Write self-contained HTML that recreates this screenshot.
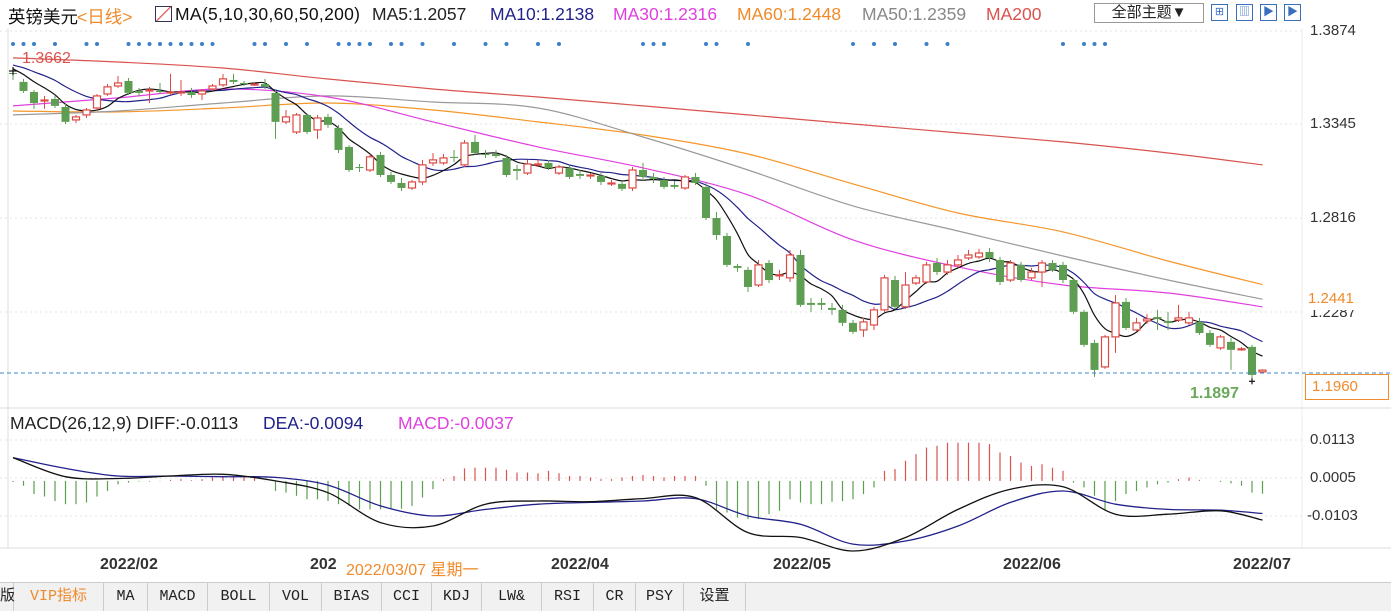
<!DOCTYPE html>
<html><head><meta charset="utf-8">
<style>
*{margin:0;padding:0;box-sizing:border-box}
body{width:1391px;height:611px;overflow:hidden;background:#fff;font-family:"Liberation Sans","Noto Sans CJK SC",sans-serif;position:relative}
.t{position:absolute;white-space:nowrap}
.h{position:absolute;top:4px;font-size:17.5px;white-space:nowrap}
.ax{position:absolute;left:1310px;font-size:15px;color:#333}
.xl{position:absolute;top:556px;font-size:16px;font-weight:bold;color:#333}
#tabs{position:absolute;left:0;top:582px;width:1391px;height:29px;background:#f1f1f1;border-top:1px solid #ccc;font-family:"Liberation Mono","Noto Sans CJK SC",monospace;font-size:15px}
#tabs div{position:absolute;top:0;height:28px;line-height:27px;border-right:1px solid #ccc;text-align:center;color:#222}
.ic{position:absolute;top:4px;width:17px;height:17px;border:1px solid #3a6fc0;color:#3a6fc0;font-size:11px;line-height:15px;text-align:center}
.m{position:absolute;top:413px;font-size:17.5px;white-space:nowrap}
</style></head><body>
<svg id="chart" width="1391" height="611" style="position:absolute;left:0;top:0">
  <g id="grid" stroke="#e3e3e3" stroke-dasharray="2,3">
    <line x1="0" x2="1302" y1="31" y2="31"/><line x1="0" x2="1302" y1="124" y2="124"/>
    <line x1="0" x2="1302" y1="218" y2="218"/><line x1="0" x2="1302" y1="312" y2="312"/>
    <line x1="0" x2="1302" y1="440" y2="440"/><line x1="0" x2="1302" y1="478" y2="478"/>
    <line x1="0" x2="1302" y1="516" y2="516"/>
  </g>
  <line x1="1302" x2="1302" y1="28" y2="548" stroke="#eee"/>
  <line x1="0" x2="1391" y1="408" y2="408" stroke="#ddd"/>
  <line x1="0" x2="1391" y1="548" y2="548" stroke="#ddd"/>
  <line x1="8" x2="8" y1="28" y2="548" stroke="#ddd"/>
  <g id="dots" fill="#3a7fc8"></g>
  <g id="mas"></g>
  <g id="candles"></g>
  <g id="macd"></g>
  <line x1="0" x2="1302" y1="373" y2="373" stroke="#3a8ad0" stroke-dasharray="4,3"/>
  <line x1="1302" x2="1391" y1="373" y2="373" stroke="#3a8ad0" stroke-dasharray="4,3"/>
</svg>

<div>
<span class="h" style="left:8px;color:#111">英镑美元</span>
<span class="h" style="left:77px;color:#f08a2a">&lt;日线&gt;</span>
<span class="h" style="left:155px;top:6px;width:17px;height:16px;border:1px solid #335;background:linear-gradient(135deg,#fff 45%,#d33 50%,#fff 55%)"></span>
<span class="h" style="left:175px;color:#111;letter-spacing:0.3px">MA(5,10,30,60,50,200)</span>
<span class="h" style="left:372px;color:#222">MA5:1.2057</span>
<span class="h" style="left:490px;color:#22228c">MA10:1.2138</span>
<span class="h" style="left:613px;color:#e040e0">MA30:1.2316</span>
<span class="h" style="left:737px;color:#f08a2a">MA60:1.2448</span>
<span class="h" style="left:862px;color:#888">MA50:1.2359</span>
<span class="h" style="left:986px;color:#d9534f">MA200</span>
</div>

<div class="t" style="left:1094px;top:3px;width:110px;height:20px;border:1px solid #999;font-size:15px;line-height:18px;text-align:center;color:#222">全部主题▼</div>
<div class="ic" style="left:1211px">⊞</div>
<div class="ic" style="left:1236px">▥</div>
<div class="ic" style="left:1260px">▶</div>
<div class="ic" style="left:1284px">▶</div>

<div class="ax" style="top:22px">1.3874</div>
<div class="ax" style="top:115px">1.3345</div>
<div class="ax" style="top:209px">1.2816</div>
<div class="ax" style="top:304px">1.2287</div>
<div class="t" style="left:1305px;top:290px;width:80px;height:20px;background:#fff;color:#f08a2a;font-size:15px;padding-left:3px">1.2441</div>
<div class="t" style="left:1305px;top:374px;width:84px;height:26px;border:1px solid #f08a2a;background:#fff;color:#f08a2a;font-size:15px;line-height:24px;padding-left:6px">1.1960</div>
<div class="t" style="left:1190px;top:385px;color:#6aa85a;font-size:16px;font-weight:bold">1.1897</div>
<div class="t" style="left:22px;top:50px;color:#d9534f;font-size:16px">1.3662</div>

<div>
<span class="m" style="left:10px;color:#222">MACD(26,12,9) DIFF:-0.0113</span>
<span class="m" style="left:263px;color:#22228c">DEA:-0.0094</span>
<span class="m" style="left:398px;color:#e040e0">MACD:-0.0037</span>
</div>
<div class="ax" style="top:431px">0.0113</div>
<div class="ax" style="top:469px">0.0005</div>
<div class="ax" style="top:507px;left:1307px">-0.0103</div>

<div class="xl" style="left:100px">2022/02</div>
<div class="xl" style="left:310px">202</div>
<div class="t" style="left:346px;top:556px;font-size:16px;color:#f08a2a;background:#fff">2022/03/07 星期一</div>
<div class="xl" style="left:551px">2022/04</div>
<div class="xl" style="left:773px">2022/05</div>
<div class="xl" style="left:1003px">2022/06</div>
<div class="xl" style="left:1233px">2022/07</div>

<div id="tabs">
<div style="left:0;width:14px">版</div>
<div style="left:14px;width:90px;color:#f08a2a">VIP指标</div>
<div style="left:104px;width:44px">MA</div>
<div style="left:148px;width:60px">MACD</div>
<div style="left:208px;width:62px">BOLL</div>
<div style="left:270px;width:52px">VOL</div>
<div style="left:322px;width:60px">BIAS</div>
<div style="left:382px;width:50px">CCI</div>
<div style="left:432px;width:50px">KDJ</div>
<div style="left:482px;width:60px">LW&amp;</div>
<div style="left:542px;width:52px">RSI</div>
<div style="left:594px;width:42px">CR</div>
<div style="left:636px;width:48px">PSY</div>
<div style="left:684px;width:62px">设置</div>
</div>

<script>
const opens=[1.3632,1.3582,1.3525,1.3475,1.3486,1.3441,1.3368,1.3396,1.3435,1.3514,1.3559,1.3587,1.3531,1.3531,1.3531,1.3520,1.3520,1.3525,1.3514,1.3542,1.3565,1.3593,1.3576,1.3565,1.3570,1.3520,1.3357,1.3300,1.3396,1.3312,1.3385,1.3323,1.3216,1.3103,1.3086,1.3171,1.3058,1.3013,1.2985,1.3019,1.3126,1.3126,1.3160,1.3115,1.3244,1.3176,1.3176,1.3154,1.3092,1.3069,1.3115,1.3126,1.3069,1.3097,1.3064,1.3053,1.3053,1.3008,1.3008,1.2985,1.3086,1.3047,1.3030,1.3002,1.2985,1.3047,1.2991,1.2816,1.2715,1.2546,1.2524,1.2439,1.2563,1.2490,1.2479,1.2608,1.2338,1.2338,1.2310,1.2299,1.2226,1.2186,1.2214,1.2299,1.2467,1.2316,1.2450,1.2456,1.2563,1.2512,1.2552,1.2591,1.2597,1.2625,1.2580,1.2467,1.2552,1.2479,1.2512,1.2563,1.2552,1.2467,1.2288,1.2113,1.1978,1.2147,1.2344,1.2186,1.2237,1.2259,1.2237,1.2242,1.2226,1.2231,1.2169,1.2085,1.2119,1.2074,1.2091,1.1950];
const closes=[1.3627,1.3531,1.3463,1.3480,1.3447,1.3357,1.3385,1.3424,1.3503,1.3554,1.3576,1.3520,1.3520,1.3537,1.3525,1.3525,1.3525,1.3508,1.3531,1.3559,1.3599,1.3582,1.3570,1.3570,1.3554,1.3357,1.3385,1.3396,1.3300,1.3379,1.3340,1.3199,1.3086,1.3097,1.3160,1.3058,1.3019,1.2985,1.3019,1.3115,1.3143,1.3154,1.3154,1.3238,1.3182,1.3171,1.3165,1.3058,1.3081,1.3120,1.3120,1.3097,1.3103,1.3047,1.3053,1.3058,1.3019,1.3013,1.2980,1.3086,1.3047,1.3036,1.2991,1.2991,1.3047,1.3013,1.2816,1.2720,1.2552,1.2535,1.2428,1.2552,1.2467,1.2496,1.2608,1.2327,1.2327,1.2327,1.2299,1.2226,1.2175,1.2231,1.2299,1.2479,1.2316,1.2439,1.2479,1.2552,1.2512,1.2552,1.2580,1.2608,1.2619,1.2591,1.2456,1.2563,1.2467,1.2512,1.2563,1.2524,1.2467,1.2288,1.2102,1.1961,1.2147,1.2338,1.2197,1.2226,1.2248,1.2248,1.2226,1.2254,1.2254,1.2169,1.2102,1.2147,1.2074,1.2080,1.1933,1.1960];
const highs=[1.3649,1.3599,1.3537,1.3503,1.3503,1.3458,1.3396,1.3435,1.3514,1.3570,1.3615,1.3604,1.3548,1.3553,1.3576,1.3627,1.3593,1.3548,1.3542,1.3570,1.3627,1.3627,1.3587,1.3576,1.3599,1.3537,1.3424,1.3407,1.3402,1.3396,1.3402,1.3340,1.3227,1.3120,1.3176,1.3188,1.3075,1.3041,1.3030,1.3143,1.3182,1.3176,1.3199,1.3255,1.3283,1.3199,1.3199,1.3171,1.3115,1.3143,1.3143,1.3143,1.3115,1.3115,1.3086,1.3069,1.3069,1.3030,1.3024,1.3103,1.3126,1.3069,1.3047,1.3024,1.3058,1.3069,1.3013,1.2850,1.2732,1.2558,1.2541,1.2580,1.2580,1.2524,1.2636,1.2636,1.2366,1.2366,1.2338,1.2327,1.2242,1.2254,1.2316,1.2496,1.2490,1.2512,1.2496,1.2569,1.2591,1.2580,1.2608,1.2636,1.2642,1.2647,1.2597,1.2580,1.2569,1.2535,1.2580,1.2580,1.2569,1.2479,1.2299,1.2130,1.2158,1.2383,1.2366,1.2254,1.2276,1.2299,1.2288,1.2327,1.2288,1.2254,1.2186,1.2158,1.2141,1.2091,1.2102,1.1965];
const lows=[1.3593,1.3520,1.3430,1.3430,1.3435,1.3345,1.3351,1.3379,1.3424,1.3503,1.3548,1.3508,1.3503,1.3463,1.3514,1.3508,1.3503,1.3492,1.3480,1.3531,1.3554,1.3570,1.3559,1.3559,1.3542,1.3261,1.3345,1.3289,1.3289,1.3261,1.3323,1.3182,1.3075,1.3075,1.3075,1.3047,1.3008,1.2968,1.2974,1.3002,1.3109,1.3115,1.3131,1.3103,1.3171,1.3154,1.3154,1.3047,1.3030,1.3058,1.3103,1.3086,1.3058,1.3036,1.3036,1.3036,1.3002,1.2996,1.2968,1.2968,1.3036,1.3013,1.2980,1.2980,1.2974,1.3002,1.2805,1.2693,1.2541,1.2513,1.2400,1.2428,1.2450,1.2467,1.2456,1.2316,1.2288,1.2299,1.2271,1.2209,1.2164,1.2147,1.2186,1.2288,1.2304,1.2304,1.2439,1.2445,1.2496,1.2496,1.2535,1.2580,1.2586,1.2569,1.2439,1.2456,1.2456,1.2467,1.2428,1.2512,1.2450,1.2276,1.2091,1.1922,1.1967,1.2057,1.2186,1.2175,1.2220,1.2186,1.2186,1.2231,1.2214,1.2158,1.2091,1.2074,1.1961,1.2068,1.1897,1.1945];
const priorCloses=[1.3680,1.3690,1.3700,1.3710,1.3705,1.3690,1.3670,1.3650,1.3640];
const maIdx=[0,10,20,30,40,50,60,70,80,90,100,110,119];
const ma30=[1.3447,1.3492,1.3542,1.3497,1.3357,1.3216,1.3098,1.2946,1.2693,1.2541,1.2439,1.2394,1.2316];
const ma60=[1.3418,1.3413,1.3435,1.3463,1.3424,1.3357,1.3283,1.3176,1.3008,1.2844,1.2738,1.2574,1.2441];
const ma50=[1.3396,1.3418,1.3463,1.3503,1.3469,1.3435,1.3272,1.3086,1.2884,1.2743,1.2602,1.2467,1.2359];
const ma200=[1.3717,1.3694,1.3660,1.3598,1.3542,1.3497,1.3447,1.3396,1.3345,1.3295,1.3244,1.3182,1.3115];
const macdHist=[-0.0003,-0.0014,-0.0038,-0.0045,-0.0058,-0.0067,-0.0067,-0.0062,-0.0045,-0.0029,-0.0010,-0.0005,-0.0002,-0.0002,-0.0001,0.0003,0.0005,0.0002,0.0005,0.0010,0.0014,0.0014,0.0014,0.0010,-0.0001,-0.0029,-0.0034,-0.0043,-0.0053,-0.0053,-0.0058,-0.0067,-0.0072,-0.0082,-0.0082,-0.0082,-0.0082,-0.0080,-0.0072,-0.0048,-0.0024,0.0005,0.0014,0.0036,0.0038,0.0038,0.0038,0.0032,0.0024,0.0024,0.0022,0.0029,0.0022,0.0014,0.0014,0.0010,0.0005,0.0005,0.0010,0.0014,0.0017,0.0014,0.0010,0.0014,0.0014,0.0014,-0.0014,-0.0082,-0.0091,-0.0106,-0.0110,-0.0110,-0.0096,-0.0086,-0.0053,-0.0062,-0.0067,-0.0067,-0.0060,-0.0058,-0.0053,-0.0038,-0.0019,0.0029,0.0034,0.0058,0.0077,0.0096,0.0101,0.0110,0.0110,0.0110,0.0110,0.0106,0.0082,0.0072,0.0053,0.0043,0.0048,0.0038,0.0029,-0.0005,-0.0019,-0.0043,-0.0082,-0.0058,-0.0038,-0.0029,-0.0019,-0.0010,-0.0005,0.0005,0.0010,0.0003,0.0000,-0.0003,-0.0007,-0.0014,-0.0034,-0.0037];
const lineIdx=[0,5,10,15,20,25,30,35,40,45,50,55,60,65,70,75,80,85,90,95,100,105,110,115,119];
const diffVals=[0.0067,0.0012,0.0007,0.0014,0.0019,0.0000,-0.0034,-0.0120,-0.0130,-0.0067,-0.0058,-0.0060,-0.0051,-0.0048,-0.0149,-0.0163,-0.0202,-0.0163,-0.0082,-0.0024,-0.0017,-0.0096,-0.0096,-0.0086,-0.0113];
const deaVals=[0.0067,0.0036,0.0014,0.0014,0.0012,0.0010,-0.0012,-0.0072,-0.0101,-0.0082,-0.0067,-0.0062,-0.0058,-0.0051,-0.0101,-0.0125,-0.0182,-0.0173,-0.0130,-0.0062,-0.0029,-0.0067,-0.0082,-0.0084,-0.0094];
const dotIdx=[0,1,2,4,7,8,11,12,13,14,15,16,17,18,19,23,24,26,28,31,32,33,34,36,37,39,42,45,47,50,52,60,61,62,66,67,70,80,82,84,87,89,100,102,103,104];

const NS='http://www.w3.org/2000/svg';
const X=i=>13+10.5*i;
const Y=p=>124+(1.3345-p)*1777;
const MY=v=>480.9-v*3472;
function mk(tag,attrs,parent){const e=document.createElementNS(NS,tag);for(const k in attrs)e.setAttribute(k,attrs[k]);parent.appendChild(e);return e;}

const cg=document.getElementById('candles');


for(let i=0;i<closes.length;i++){
  const up=closes[i]>=opens[i];
  const col=up?'#dc4a44':'#5d9e52';
  const g=mk('g',{},cg);
  
  
  const x=X(i);
  const yt=Y(Math.max(opens[i],closes[i])),yb=Y(Math.min(opens[i],closes[i]));
  mk('line',{x1:x,x2:x,y1:Y(highs[i]),y2:yt,stroke:col,'stroke-width':1},g);
  mk('line',{x1:x,x2:x,y1:yb,y2:Y(lows[i]),stroke:col,'stroke-width':1},g);
  const h=Math.max(1,yb-yt);
  if(up) mk('rect',{x:x-3.5,y:yt,width:7,height:h,fill:'#fff',stroke:col,'stroke-width':1.2},g);
  else mk('rect',{x:x-4,y:yt,width:8,height:h,fill:col},g);
}

function sma(n){const all=priorCloses.concat(closes);const off=priorCloses.length;const out=[];
  for(let i=0;i<closes.length;i++){const j=i+off;const s=Math.max(0,j-n+1);let t=0;for(let k=s;k<=j;k++)t+=all[k];out.push(t/(j-s+1));}return out;}
function smoothPath(pts){
  let d='M'+pts[0][0].toFixed(1)+','+pts[0][1].toFixed(1);
  for(let i=0;i<pts.length-1;i++){
    const p0=pts[Math.max(0,i-1)],p1=pts[i],p2=pts[i+1],p3=pts[Math.min(pts.length-1,i+2)];
    const c1x=p1[0]+(p2[0]-p0[0])/6,c1y=p1[1]+(p2[1]-p0[1])/6;
    const c2x=p2[0]-(p3[0]-p1[0])/6,c2y=p2[1]-(p3[1]-p1[1])/6;
    d+=' C'+c1x.toFixed(1)+','+c1y.toFixed(1)+' '+c2x.toFixed(1)+','+c2y.toFixed(1)+' '+p2[0].toFixed(1)+','+p2[1].toFixed(1);
  }
  return d;
}
const mg=document.getElementById('mas');
function drawLine(idx,vals,color,name,w,yf,parent){
  const pts=idx.map((ix,k)=>[X(ix),yf(vals[k])]);
  const pl=mk('path',{d:smoothPath(pts),fill:'none',stroke:color,'stroke-width':w},parent);
  
  
}
drawLine(maIdx,ma200,'#d9534f','ma200-line',1.2,Y,mg);
drawLine(maIdx,ma60,'#f5962a','ma60-line',1.2,Y,mg);
drawLine(maIdx,ma50,'#9a9a9a','ma50-line',1.2,Y,mg);
drawLine(maIdx,ma30,'#e040e0','ma30-line',1.2,Y,mg);
const allIdx=closes.map((_,i)=>i);
drawLine(allIdx,sma(10),'#22228c','ma10-line',1.2,Y,mg);
drawLine(allIdx,sma(5),'#111','ma5-line',1.2,Y,mg);

const macdG=document.getElementById('macd');
for(let i=0;i<macdHist.length;i++){
  const v=macdHist[i];
  const b=mk('line',{x1:X(i),x2:X(i),y1:MY(0),y2:MY(v),stroke:v>=0?'#d9534f':'#5d9e52','stroke-width':1.2},macdG);
  
  
}
drawLine(lineIdx,deaVals,'#22228c','dea-line',1.3,MY,macdG);
drawLine(lineIdx,diffVals,'#111','diff-line',1.3,MY,macdG);

const dg=document.getElementById('dots');
for(const ix of dotIdx){
  const c=mk('circle',{cx:X(ix),cy:44,r:2},dg);
  
  
}
const mkG=mk('g',{stroke:'#111','stroke-width':1.2},document.getElementById('chart'));


mk('line',{x1:X(0)-4,x2:X(0)+4,y1:Y(highs[0])+1,y2:Y(highs[0])+1},mkG);
mk('line',{x1:X(0),x2:X(0),y1:Y(highs[0])-3,y2:Y(highs[0])+5},mkG);
mk('line',{x1:X(118)-3,x2:X(118)+3,y1:Y(lows[118]),y2:Y(lows[118])},mkG);
mk('line',{x1:X(118),x2:X(118),y1:Y(lows[118])-3,y2:Y(lows[118])+3},mkG);
</script>
</body></html>
